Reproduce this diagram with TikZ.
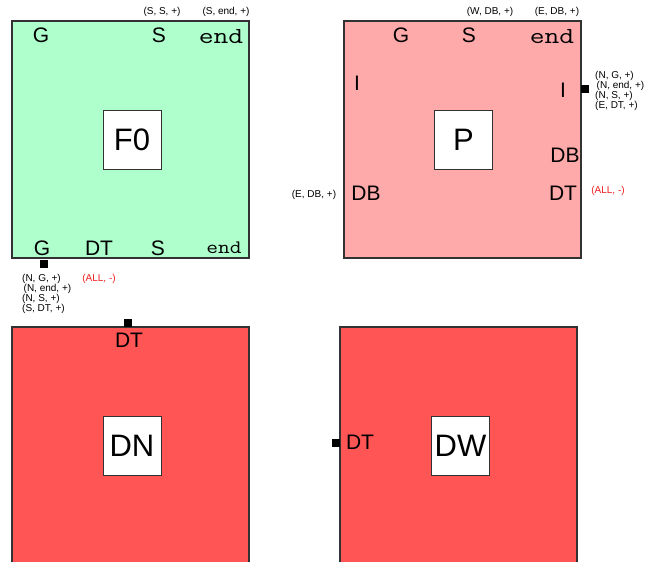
\documentclass[tikz,border=0pt]{standalone}
\usepackage{fontspec}
\setmainfont{Liberation Sans}
\usepackage{graphicx}
\usetikzlibrary{positioning}
\definecolor{f0Fill}{RGB}{175,255,205}
\definecolor{pFill}{RGB}{255,170,170}
\definecolor{dFill}{RGB}{255,85,85}
\definecolor{edgeGray}{RGB}{50,50,50}
\definecolor{negRed}{RGB}{240,30,30}
\newcommand{\ttend}[2]{\scalebox{#2}[1]{\fontsize{#1}{#1}\selectfont\ttfamily end}}

\begin{document}
\begin{tikzpicture}[
    x=1pt, y=-1pt,
    % outer component block
    compbox/.style={
        rectangle, draw=edgeGray, line width=1.1pt,
        minimum width=237pt, minimum height=237pt, inner sep=0pt
    },
    % white name box in the middle
    namebox/.style={
        rectangle, draw=edgeGray, line width=0.9pt, fill=white,
        minimum width=58pt, minimum height=59pt, inner sep=0pt,
        font=\fontsize{31}{31}\selectfont
    },
    % state label inside a block
    portlbl/.style={font=\fontsize{21}{21}\selectfont, inner sep=0pt},
    % small black port square
    portsq/.style={rectangle, fill=black, minimum size=8pt, inner sep=0pt},
    % small tuple text
    tuple/.style={font=\fontsize{10}{9.8}\selectfont, inner sep=0pt, align=left},
    negtuple/.style={tuple, text=negRed}
]
\useasboundingbox (0,0) rectangle (657,562);
% ── Blocks ─────────────────────────────────────────────
\node[compbox, fill=f0Fill] (f0) at (130.5,139.5) {};
\node[compbox, fill=pFill]  (p)  at (462.5,139.5) {};
\node[compbox, fill=dFill]  (dn) at (130.5,445.5) {};
\node[compbox, fill=dFill]  (dw) at (458.5,445.5) {};
% ── Name boxes ─────────────────────────────────────────
\node[namebox] (f0name) at (132,139.5)   {F0};
\node[namebox] (pname)  at (463.5,139.5) {P};
\node[namebox] (dnname) at (132,445.5)   {DN};
\node[namebox] (dwname) at (460.5,445.5) {DW};
% ── F0 labels ──────────────────────────────────────────
\node[portlbl] (f0g)    at (41,35)  {G};
\node[portlbl] (f0s)    at (159,35) {S};
\node[inner sep=0pt] (f0end) at (221,37) {\ttend{23}{1.25}};
\node[portlbl] (f0gb)   at (42,248)  {G};
\node[portlbl] (f0dt)   at (99,248)  {DT};
\node[portlbl] (f0sb)   at (158,248) {S};
\node[inner sep=0pt] (f0endb) at (224,248) {\ttend{19}{1.2}};
\node[tuple] (f0ss)   at (162,12) {(S, S, +)};
\node[tuple] (f0send) at (226,12) {(S, end, +)};
\node[portsq] (f0port) at (44,263.5) {};
\node[tuple, anchor=north west] (f0list) at (22,274.5)
    {(N, G, +)\\\hspace{1.5pt}(N, end, +)\\(N, S, +)\\(S, DT, +)};
\node[negtuple] (f0neg) at (99,279) {(ALL, -)};
% ── P labels ───────────────────────────────────────────
\node[portlbl] (pg)   at (401,35) {G};
\node[portlbl] (ps)   at (469,35) {S};
\node[inner sep=0pt] (pend) at (552,37) {\ttend{23}{1.25}};
\node[portlbl] (pil)  at (357,83)  {I};
\node[portlbl] (pir)  at (563,90)  {I};
\node[portlbl] (pdbr) at (565,155) {DB};
\node[portlbl] (pdt)  at (563,193) {DT};
\node[portlbl] (pdbl) at (366,193) {DB};
\node[tuple] (pwdb)  at (490,12)  {(W, DB, +)};
\node[tuple] (pedb)  at (557,12)  {(E, DB, +)};
\node[tuple] (pedbl) at (314,195) {(E, DB, +)};
\node[negtuple] (pneg) at (608,191) {(ALL, -)};
\node[portsq] (pport) at (585,89) {};
\node[tuple, anchor=north west] (plist) at (595,71.5)
    {(N, G, +)\\\hspace{1.5pt}(N, end, +)\\(N, S, +)\\(E, DT, +)};
% ── DN and DW labels ───────────────────────────────────
\node[portsq]  (dnport) at (127.5,323) {};
\node[portlbl] (dndt)   at (129,340)   {DT};
\node[portsq]  (dwport) at (335.5,442.5) {};
\node[portlbl] (dwdt)   at (360,442)   {DT};
\end{tikzpicture}
\end{document}
